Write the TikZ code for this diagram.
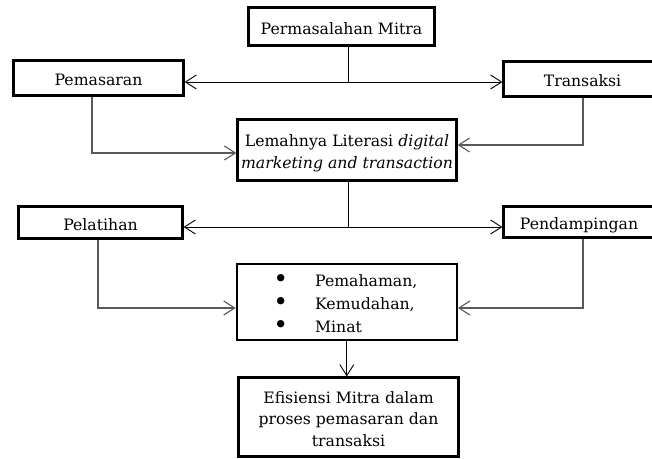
\documentclass[tikz,border=0pt]{standalone}
\usepackage{fontspec}
\setmainfont{DejaVu Serif}
\usepackage{graphicx}
\usetikzlibrary{arrows.meta}
\renewcommand{\arraystretch}{0}
\newcommand\strA{\rule[-3pt]{0pt}{21.5pt}}
\newcommand\strB{\rule[-3.9pt]{0pt}{23pt}}
\newcommand\bt{\makebox[9.2pt][c]{\raisebox{-1pt}{\scalebox{1.6}{\textbullet}}}\hspace{29.7pt}}
\tikzset{
  box/.style={draw, line width=2.2pt, inner sep=0pt, font=\fontsize{15.7pt}{21.5pt}\selectfont},
  arr/.style={-{Straight Barb[length=11pt,width=14pt]}, line width=0.9pt},
  lconn/.style={arr, draw=black!65, line width=1.1pt},
  stem/.style={line width=0.9pt}
}
\begin{document}
\begin{tikzpicture}[x=1pt,y=-1pt]
\clip (0,0) rectangle (652,458);
\fill[white] (0,0) rectangle (652,458);
% boxes
\node[box, minimum width=186pt, minimum height=38pt] (perm) at (341.5,26.5)
  {\begin{tabular}{@{}c@{}}\strA Permasalahan Mitra\end{tabular}};
\node[box, minimum width=170pt, minimum height=35pt] (pem) at (98.5,78)
  {\begin{tabular}{@{}c@{}}\strA Pemasaran\end{tabular}};
\node[box, minimum width=158pt, minimum height=35pt] (trans) at (582.5,79)
  {\begin{tabular}{@{}c@{}}\strA Transaksi\end{tabular}};
\node[box, minimum width=219pt, minimum height=61pt] (lem) at (347,150)
  {\begin{tabular}{@{}c@{}}\strA Lemahnya Literasi \textit{digital}\\ \strA\textit{marketing and transaction}\end{tabular}};
\node[box, minimum width=164pt, minimum height=32pt] (pel) at (100.5,222.5)
  {\begin{tabular}{@{}c@{}}\strA Pelatihan\end{tabular}};
\node[box, minimum width=151pt, minimum height=31pt] (pend) at (579,222)
  {\begin{tabular}{@{}c@{}}\strA Pendampingan\end{tabular}};
\node[box, minimum width=220pt, minimum height=76pt] (bul) at (346.8,301.7)
  {\begin{tabular}{@{}l@{}}\strB\bt Pemahaman,\\ \strB\bt Kemudahan,\\ \strB\bt Minat\end{tabular}};
\node[box, minimum width=220pt, minimum height=79pt] (eff) at (348.5,417)
  {\begin{tabular}{@{}c@{}}\strA Efisiensi Mitra dalam\\ \strA proses pemasaran dan\\ \strA transaksi\end{tabular}};
% junctions and corners
\coordinate (j1) at (348,82);
\coordinate (j2) at (348.5,227);
\coordinate (c1) at (92,153);
\coordinate (c2) at (583,145);
\coordinate (c3) at (98,308);
\coordinate (c4) at (583,308);
% connectors
\draw[stem] (perm.south -| j1) -- (j1);
\draw[arr] (j1) -- (pem.east |- j1);
\draw[arr] (j1) -- (trans.west |- j1);
\draw[lconn] (pem.south -| c1) |- (lem.west |- c1);
\draw[lconn] (trans.south -| c2) |- (lem.east |- c2);
\draw[stem] (lem.south -| j2) -- (j2);
\draw[arr] (j2) -- (pel.east |- j2);
\draw[arr] (j2) -- (pend.west |- j2);
\draw[lconn] (pel.south -| c3) |- (bul.west |- c3);
\draw[lconn] (pend.south -| c4) |- (bul.east |- c4);
\draw[arr] (bul.south) -- (eff.north -| bul.south);
\end{tikzpicture}
\end{document}
